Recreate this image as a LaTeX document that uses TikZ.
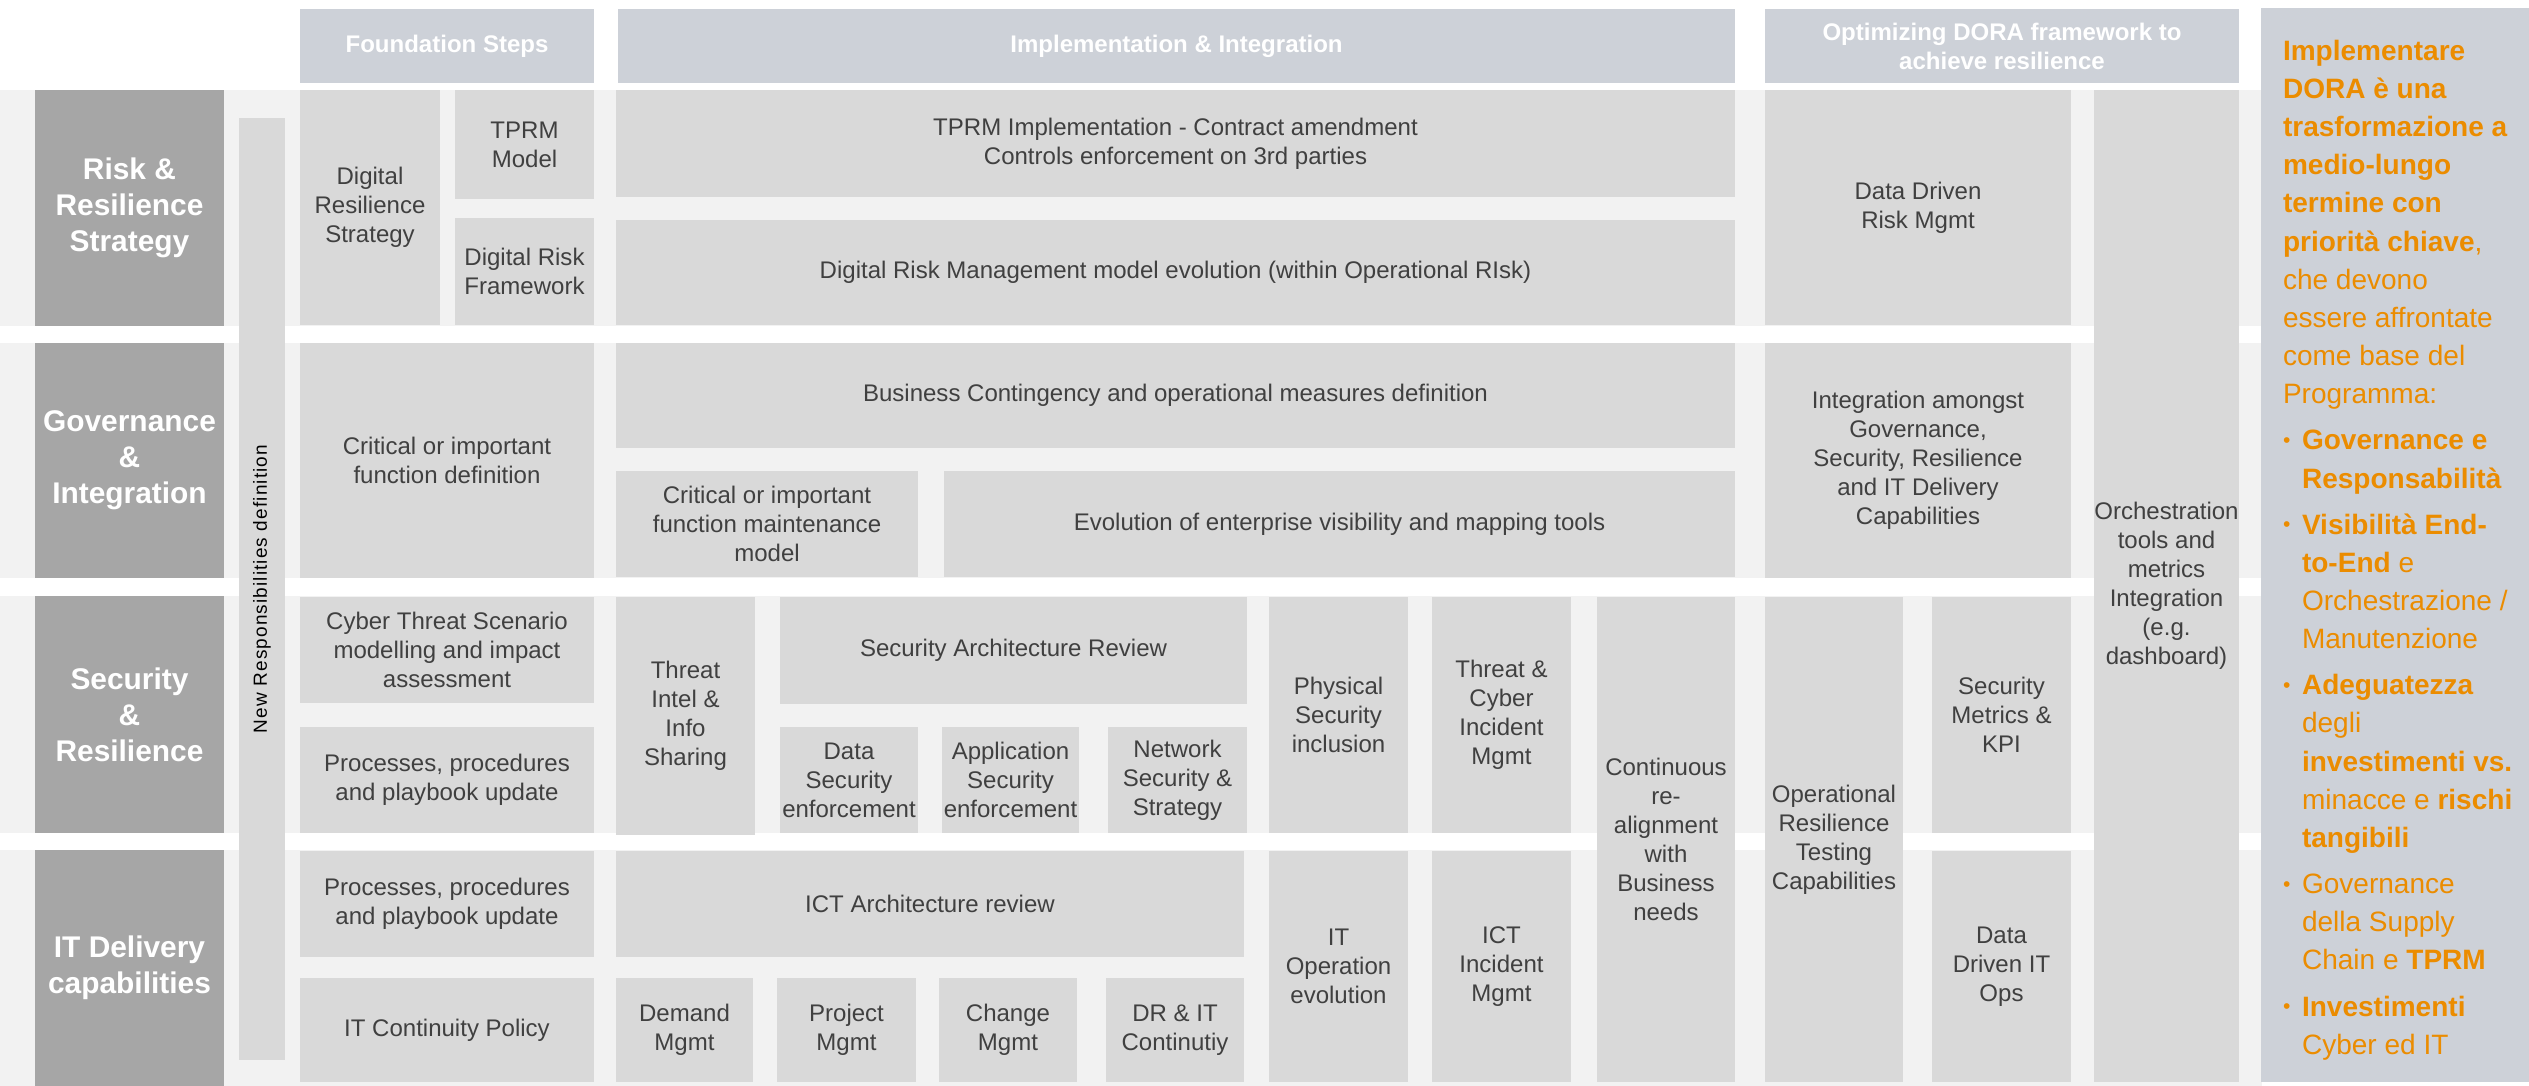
\documentclass[tikz,border=0pt]{standalone}
\usepackage{fontspec}
\setmainfont{Liberation Sans}
\newfontfamily\vertfont[LetterSpace=6]{Liberation Sans}
\definecolor{bandc}{HTML}{F2F2F2}
\definecolor{cellc}{HTML}{D9D9D9}
\definecolor{darkl}{HTML}{A6A6A6}
\definecolor{headc}{HTML}{CDD1D8}
\definecolor{txtc}{HTML}{404040}
\definecolor{orng}{HTML}{EB8C00}
\newcommand{\Bx}[7][cell]{\node[#1, minimum width={(#5-#3)*0.01cm}, minimum height={(#6-#4)*0.01cm}] (#2) at ({(#3+#5)/2},{(#4+#6)/2}) {#7};}
\newcommand{\Bul}{\makebox[0.19cm][l]{\raisebox{0.7pt}{\fontsize{6}{6}\selectfont•}}}
\newcommand{\Ind}{\hspace*{0.19cm}}
\tikzset{
  base/.style={draw=none, inner sep=0pt, outer sep=0pt, align=center},
  cell/.style={base, fill=cellc, text=txtc, font=\fontsize{6.83}{8.25}\selectfont},
  lab/.style={base, fill=darkl, text=white, font=\fontsize{8.5}{10.25}\selectfont\bfseries},
  head/.style={base, fill=headc, text=white, font=\fontsize{6.83}{8.25}\selectfont\bfseries},
  vbar/.style={base, fill=cellc},
}
\begin{document}
\begin{tikzpicture}[x=0.01cm, y=-0.01cm]
\useasboundingbox (0,0) rectangle (2529,1086);
% row bands
\fill[bandc] (0,90) rectangle (2262,326);
\fill[bandc] (0,343) rectangle (2262,578);
\fill[bandc] (0,596) rectangle (2262,833);
\fill[bandc] (0,850) rectangle (2262,1086);
% headers
\Bx[head]{hfound}{300}{9}{594}{83}{Foundation Steps}
\Bx[head]{himpl}{618}{9}{1735}{83}{Implementation \& Integration}
\Bx[head]{hopt}{1765}{9}{2239}{83}{Optimizing DORA framework to\\achieve resilience}
% left labels
\Bx[lab]{l1}{35}{90}{224}{326}{Risk \&\\Resilience\\Strategy}
\Bx[lab]{l2}{35}{343}{224}{578}{Governance\\\&\\Integration}
\Bx[lab]{l3}{35}{596}{224}{833}{Security\\\&\\Resilience}
\Bx[lab]{l4}{35}{850}{224}{1086}{IT Delivery\\capabilities}
% new responsibilities bar
\Bx[vbar]{nrbar}{239}{118}{285}{1060}{}
\node[base, rotate=90, text=black, font=\vertfont\fontsize{5.4}{6.5}\selectfont] (nrtext) at (nrbar.center) {New Responsibilities definition};
% row 1
\Bx{drs}{300}{90}{440}{325}{Digital\\Resilience\\Strategy}
\Bx{tprmm}{455}{90}{594}{199}{TPRM\\Model}
\Bx{drf}{455}{218}{594}{325}{Digital Risk\\Framework}
\Bx{tprmi}{616}{90}{1735}{197}{TPRM Implementation - Contract amendment\\Controls enforcement on 3rd parties}
\Bx{drm}{616}{220}{1735}{325}{Digital Risk Management model evolution (within Operational RIsk)}
\Bx{ddrm}{1765}{90}{2071}{325}{Data Driven\\Risk Mgmt}
% orchestration
\Bx{orch}{2094}{90}{2239}{1082}{Orchestration\\tools and\\metrics\\Integration\\(e.g.\\dashboard)}
% row 2
\Bx{cifd}{300}{343}{594}{578}{Critical or important\\function definition}
\Bx{bcom}{616}{343}{1735}{448}{Business Contingency and operational measures definition}
\Bx{cifm}{616}{471}{918}{577}{Critical or important\\function maintenance\\model}
\Bx{evol}{944}{471}{1735}{577}{Evolution of enterprise visibility and mapping tools}
\Bx{integ}{1765}{343}{2071}{578}{Integration amongst\\Governance,\\Security, Resilience\\and IT Delivery\\Capabilities}
% row 3
\Bx{cts}{300}{597}{594}{703}{Cyber Threat Scenario\\modelling and impact\\assessment}
\Bx{ppb1}{300}{727}{594}{833}{Processes, procedures\\and playbook update}
\Bx{tiis}{616}{597}{755}{835}{Threat\\Intel \&\\Info\\Sharing}
\Bx{sar}{780}{597}{1247}{704}{Security Architecture Review}
\Bx{dse}{780}{727}{918}{833}{Data\\Security\\enforcement}
\Bx{ase}{942}{727}{1079}{833}{Application\\Security\\enforcement}
\Bx{nss}{1108}{727}{1247}{833}{Network\\Security \&\\Strategy}
\Bx{psi}{1269}{597}{1408}{833}{Physical\\Security\\inclusion}
\Bx{tcim}{1432}{597}{1571}{833}{Threat \&\\Cyber\\Incident\\Mgmt}
\Bx{crab}{1597}{597}{1735}{1082}{Continuous\\re-\\alignment\\with\\Business\\needs}
\Bx{ortc}{1765}{597}{1903}{1082}{Operational\\Resilience\\Testing\\Capabilities}
\Bx{smk}{1932}{597}{2071}{833}{Security\\Metrics \&\\KPI}
% row 4
\Bx{ppb2}{300}{851}{594}{957}{Processes, procedures\\and playbook update}
\Bx{itcp}{300}{978}{594}{1082}{IT Continuity Policy}
\Bx{ictar}{616}{851}{1244}{957}{ICT Architecture review}
\Bx{dem}{616}{978}{753}{1082}{Demand\\Mgmt}
\Bx{proj}{777}{978}{916}{1082}{Project\\Mgmt}
\Bx{chg}{939}{978}{1077}{1082}{Change\\Mgmt}
\Bx{drit}{1106}{978}{1244}{1082}{DR \& IT\\Continutiy}
\Bx{itop}{1269}{851}{1408}{1082}{IT\\Operation\\evolution}
\Bx{ictim}{1432}{851}{1571}{1082}{ICT\\Incident\\Mgmt}
\Bx{ddit}{1932}{851}{2071}{1082}{Data\\Driven IT\\Ops}
% right panel
\Bx[base, fill=headc]{rpanel}{2261}{8}{2529}{1082}{}
\node[base, align=left, anchor=north west, text=orng, font=\fontsize{7.97}{10.85}\selectfont] (rtext) at (2283,40) {%
\textbf{Implementare}\\
\textbf{DORA è una}\\
\textbf{trasformazione a}\\
\textbf{medio-lungo}\\
\textbf{termine con}\\
\textbf{priorità chiave},\\
che devono\\
essere affrontate\\
come base del\\
Programma:\\[0.08cm]
\Bul\textbf{Governance e}\\
\Ind\textbf{Responsabilità}\\[0.08cm]
\Bul\textbf{Visibilità End-}\\
\Ind\textbf{to-End} e\\
\Ind Orchestrazione /\\
\Ind Manutenzione\\[0.08cm]
\Bul\textbf{Adeguatezza}\\
\Ind degli\\
\Ind\textbf{investimenti vs.}\\
\Ind minacce e \textbf{rischi}\\
\Ind\textbf{tangibili}\\[0.08cm]
\Bul Governance\\
\Ind della Supply\\
\Ind Chain e \textbf{TPRM}\\[0.08cm]
\Bul\textbf{Investimenti}\\
\Ind Cyber ed IT};
\end{tikzpicture}
\end{document}
